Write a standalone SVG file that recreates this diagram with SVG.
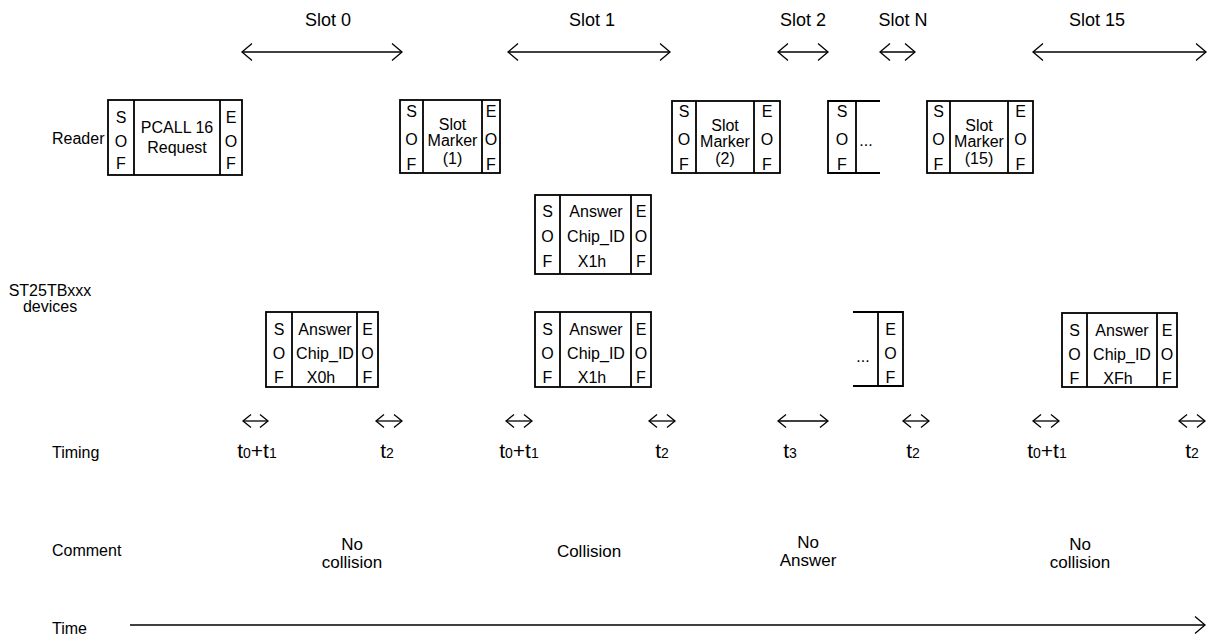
<svg xmlns="http://www.w3.org/2000/svg" width="1209" height="639" viewBox="0 0 1209 639">
<style>
text{font-family:"Liberation Sans",Arial,sans-serif;fill:#000}
.lbl{font-size:16px}
.slot{font-size:18px;text-anchor:middle}
.bt{font-size:16px;text-anchor:middle}
.tm{font-size:21px;text-anchor:middle}
.sub{font-size:14px}
.cm{font-size:17px;text-anchor:middle}
.box{fill:#fff;stroke:#000;stroke-width:1.8}
.ln{fill:none;stroke:#000;stroke-width:1.8}
.arr{fill:none;stroke:#000;stroke-width:1.3}
.big{marker-start:url(#hb);marker-end:url(#hb)}
.sm{marker-start:url(#hs);marker-end:url(#hs)}
</style>
<defs>
<marker id="hb" markerUnits="userSpaceOnUse" viewBox="-12 -10 13 20" markerWidth="13" markerHeight="20" refX="0" refY="0" orient="auto-start-reverse" overflow="visible">
<path d="M-10,-8.5 L0,0 L-10,8.5" fill="none" stroke="#000" stroke-width="1.3"/>
</marker>
<marker id="hs" markerUnits="userSpaceOnUse" viewBox="-10 -8 11 16" markerWidth="11" markerHeight="16" refX="0" refY="0" orient="auto-start-reverse" overflow="visible">
<path d="M-8,-6.5 L0,0 L-8,6.5" fill="none" stroke="#000" stroke-width="1.3"/>
</marker>
</defs>

<g id="row-labels">
<text class="lbl" x="52" y="144">Reader</text>
<text class="lbl" x="50" y="296" text-anchor="middle">ST25TBxxx</text>
<text class="lbl" x="50" y="312" text-anchor="middle">devices</text>
<text class="lbl" x="52" y="458">Timing</text>
<text class="lbl" x="52" y="556">Comment</text>
<text class="lbl" x="52" y="634">Time</text>
</g>

<g id="slot-labels">
<text class="slot" x="328" y="26">Slot 0</text>
<text class="slot" x="592" y="26">Slot 1</text>
<text class="slot" x="803" y="26">Slot 2</text>
<text class="slot" x="903" y="26">Slot N</text>
<text class="slot" x="1097" y="26">Slot 15</text>
</g>

<g id="connectors">
<line class="arr big" x1="242" y1="52" x2="402" y2="52"/>
<line class="arr big" x1="508" y1="52" x2="670" y2="52"/>
<line class="arr big" x1="778" y1="52" x2="828" y2="52"/>
<line class="arr big" x1="880" y1="52" x2="915" y2="52"/>
<line class="arr big" x1="1033" y1="52" x2="1206" y2="52"/>
<line class="arr sm" x1="243" y1="421" x2="268" y2="421"/>
<line class="arr sm" x1="376" y1="421" x2="402" y2="421"/>
<line class="arr sm" x1="506" y1="421" x2="532" y2="421"/>
<line class="arr sm" x1="649" y1="421" x2="675" y2="421"/>
<line class="arr sm" x1="778" y1="421" x2="828" y2="421"/>
<line class="arr sm" x1="903" y1="421" x2="929" y2="421"/>
<line class="arr sm" x1="1033" y1="421" x2="1059" y2="421"/>
<line class="arr sm" x1="1179" y1="421" x2="1205" y2="421"/>
<line class="arr" x1="130" y1="625" x2="1205" y2="625" marker-end="url(#hb)"/>
</g>

<g id="pcall">
<rect class="box" x="108" y="100" width="134" height="75"/>
<line class="ln" x1="134" y1="100" x2="134" y2="175"/>
<line class="ln" x1="220" y1="100" x2="220" y2="175"/>
<text class="bt" x="121" y="123">S</text><text class="bt" x="121" y="147">O</text><text class="bt" x="121" y="169">F</text>
<text class="bt" x="177" y="133">PCALL 16</text><text class="bt" x="177" y="153">Request</text>
<text class="bt" x="231" y="123">E</text><text class="bt" x="231" y="147">O</text><text class="bt" x="231" y="169">F</text>
</g>

<g id="marker1">
<rect class="box" x="400" y="100" width="100" height="73"/>
<line class="ln" x1="423" y1="100" x2="423" y2="173"/>
<line class="ln" x1="482" y1="100" x2="482" y2="173"/>
<text class="bt" x="411.5" y="117">S</text><text class="bt" x="411.5" y="145">O</text><text class="bt" x="411.5" y="170">F</text>
<text class="bt" x="452.5" y="130">Slot</text><text class="bt" x="452.5" y="146">Marker</text><text class="bt" x="452.5" y="164">(1)</text>
<text class="bt" x="491" y="117">E</text><text class="bt" x="491" y="145">O</text><text class="bt" x="491" y="170">F</text>
</g>

<g id="marker2">
<rect class="box" x="672" y="101" width="108" height="72"/>
<line class="ln" x1="696" y1="101" x2="696" y2="173"/>
<line class="ln" x1="754" y1="101" x2="754" y2="173"/>
<text class="bt" x="684" y="117">S</text><text class="bt" x="684" y="145">O</text><text class="bt" x="684" y="170">F</text>
<text class="bt" x="725" y="131">Slot</text><text class="bt" x="725" y="147">Marker</text><text class="bt" x="725" y="164">(2)</text>
<text class="bt" x="767" y="117">E</text><text class="bt" x="767" y="145">O</text><text class="bt" x="767" y="170">F</text>
</g>

<g id="markerN">
<path class="ln" d="M880,101 H828 V173 H880"/>
<line class="ln" x1="856" y1="101" x2="856" y2="173"/>
<text class="bt" x="842" y="117">S</text><text class="bt" x="842" y="145">O</text><text class="bt" x="842" y="170">F</text>
<text class="bt" x="866" y="146">...</text>
</g>

<g id="marker15">
<rect class="box" x="927" y="101" width="106" height="72"/>
<line class="ln" x1="950" y1="101" x2="950" y2="173"/>
<line class="ln" x1="1008" y1="101" x2="1008" y2="173"/>
<text class="bt" x="938.5" y="117">S</text><text class="bt" x="938.5" y="145">O</text><text class="bt" x="938.5" y="170">F</text>
<text class="bt" x="979" y="131">Slot</text><text class="bt" x="979" y="147">Marker</text><text class="bt" x="979" y="164">(15)</text>
<text class="bt" x="1020.5" y="117">E</text><text class="bt" x="1020.5" y="145">O</text><text class="bt" x="1020.5" y="170">F</text>
</g>

<g id="answer-x1h-top">
<rect class="box" x="535" y="195" width="116" height="79"/>
<line class="ln" x1="560" y1="195" x2="560" y2="274"/>
<line class="ln" x1="631" y1="195" x2="631" y2="274"/>
<text class="bt" x="547.5" y="217">S</text><text class="bt" x="547.5" y="242">O</text><text class="bt" x="547.5" y="267">F</text>
<text class="bt" x="596" y="217">Answer</text><text class="bt" x="596" y="242">Chip_ID</text><text class="bt" x="592" y="267">X1h</text>
<text class="bt" x="641" y="217">E</text><text class="bt" x="641" y="242">O</text><text class="bt" x="641" y="267">F</text>
</g>

<g id="answer-x0h">
<rect class="box" x="266" y="312" width="112" height="75"/>
<line class="ln" x1="292" y1="312" x2="292" y2="387"/>
<line class="ln" x1="357" y1="312" x2="357" y2="387"/>
<text class="bt" x="279" y="335">S</text><text class="bt" x="279" y="359">O</text><text class="bt" x="279" y="383">F</text>
<text class="bt" x="325" y="335">Answer</text><text class="bt" x="325" y="359">Chip_ID</text><text class="bt" x="321" y="383">X0h</text>
<text class="bt" x="367.5" y="335">E</text><text class="bt" x="367.5" y="359">O</text><text class="bt" x="367.5" y="383">F</text>
</g>

<g id="answer-x1h-bottom">
<rect class="box" x="535" y="312" width="116" height="75"/>
<line class="ln" x1="560" y1="312" x2="560" y2="387"/>
<line class="ln" x1="631" y1="312" x2="631" y2="387"/>
<text class="bt" x="547.5" y="335">S</text><text class="bt" x="547.5" y="359">O</text><text class="bt" x="547.5" y="383">F</text>
<text class="bt" x="596" y="335">Answer</text><text class="bt" x="596" y="359">Chip_ID</text><text class="bt" x="592" y="383">X1h</text>
<text class="bt" x="641" y="335">E</text><text class="bt" x="641" y="359">O</text><text class="bt" x="641" y="383">F</text>
</g>

<g id="answer-n">
<path class="ln" d="M853,312 H903 V386 H853"/>
<line class="ln" x1="878" y1="312" x2="878" y2="386"/>
<text class="bt" x="863" y="362">...</text>
<text class="bt" x="890.5" y="335">E</text><text class="bt" x="890.5" y="359">O</text><text class="bt" x="890.5" y="383">F</text>
</g>

<g id="answer-xfh">
<rect class="box" x="1062" y="313" width="115" height="74"/>
<line class="ln" x1="1087" y1="313" x2="1087" y2="387"/>
<line class="ln" x1="1157" y1="313" x2="1157" y2="387"/>
<text class="bt" x="1074.5" y="336">S</text><text class="bt" x="1074.5" y="360">O</text><text class="bt" x="1074.5" y="384">F</text>
<text class="bt" x="1122" y="336">Answer</text><text class="bt" x="1122" y="360">Chip_ID</text><text class="bt" x="1118" y="384">XFh</text>
<text class="bt" x="1167" y="336">E</text><text class="bt" x="1167" y="360">O</text><text class="bt" x="1167" y="384">F</text>
</g>

<g id="timing-labels">
<text class="tm" x="257" y="458">t<tspan class="sub">0</tspan>+t<tspan class="sub">1</tspan></text>
<text class="tm" x="387" y="458">t<tspan class="sub">2</tspan></text>
<text class="tm" x="519" y="458">t<tspan class="sub">0</tspan>+t<tspan class="sub">1</tspan></text>
<text class="tm" x="662" y="458">t<tspan class="sub">2</tspan></text>
<text class="tm" x="790" y="458">t<tspan class="sub">3</tspan></text>
<text class="tm" x="913" y="458">t<tspan class="sub">2</tspan></text>
<text class="tm" x="1047" y="458">t<tspan class="sub">0</tspan>+t<tspan class="sub">1</tspan></text>
<text class="tm" x="1192" y="458">t<tspan class="sub">2</tspan></text>
</g>

<g id="comments">
<text class="cm" x="352" y="550">No</text><text class="cm" x="352" y="568">collision</text>
<text class="cm" x="589" y="557">Collision</text>
<text class="cm" x="808" y="548">No</text><text class="cm" x="808" y="566">Answer</text>
<text class="cm" x="1080" y="550">No</text><text class="cm" x="1080" y="568">collision</text>
</g>
</svg>
